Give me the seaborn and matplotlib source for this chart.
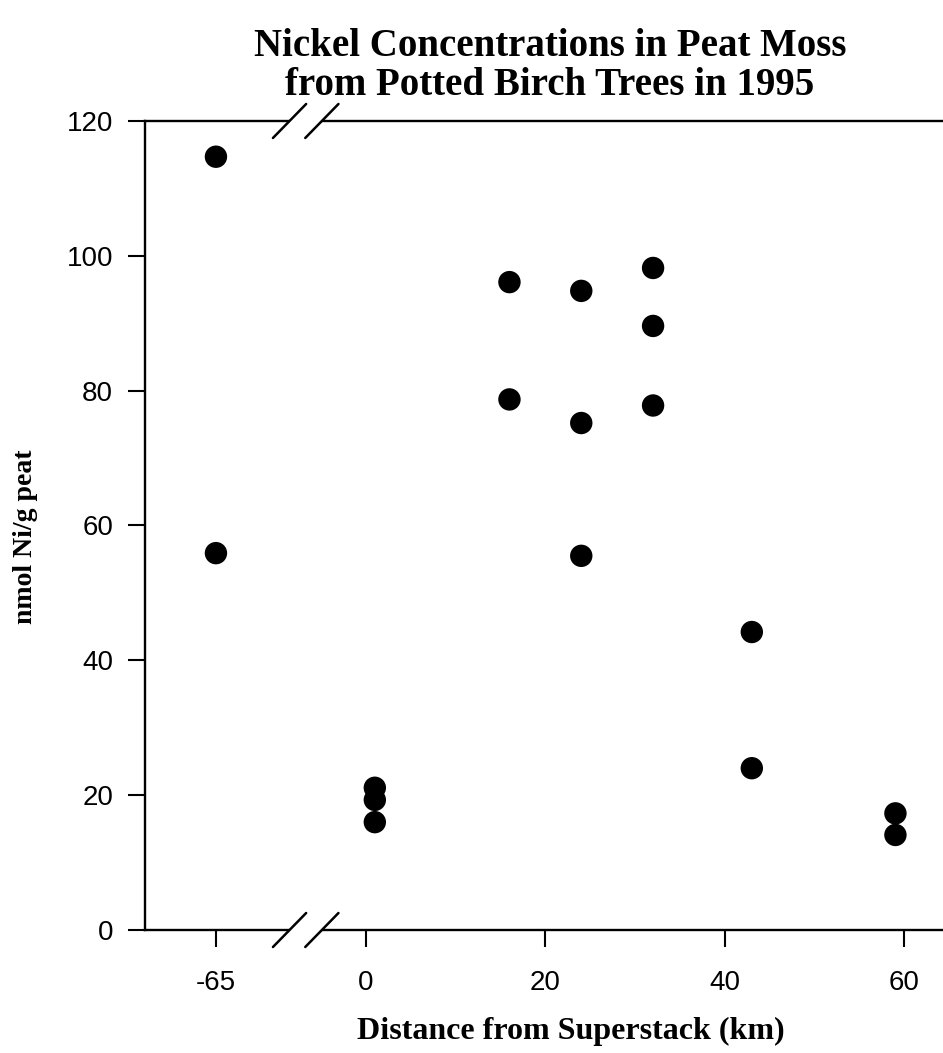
import numpy as np
import pandas as pd
import matplotlib
matplotlib.use("Agg")
import matplotlib.pyplot as plt
import seaborn as sns

# ---- data ----
distance_km = [-65, -65, 1, 1, 1, 16, 16, 24, 24, 24, 32, 32, 32, 43, 43, 59, 59]
nickel_nmol = [114.7, 55.9, 21.1, 19.3, 16.0, 96.1, 78.7, 94.8, 75.2, 55.5,
               98.2, 89.6, 77.8, 44.2, 24.0, 17.3, 14.1]
x_tick_values = [-65, 0, 20, 40, 60]
x_tick_labels = ["-65", "0", "20", "40", "60"]
y_ticks = [0, 20, 40, 60, 80, 100, 120]

# broken axis: values left of the break are shifted onto the compressed segment
BREAK_SHIFT = 48.3


def axis_pos(d):
    return d + BREAK_SHIFT if d < -20 else d


df = pd.DataFrame({"pos": [axis_pos(d) for d in distance_km], "ni": nickel_nmol})

sns.set_style("ticks")
serif = ["Liberation Serif", "DejaVu Serif"]
sans = ["Liberation Sans", "DejaVu Sans"]
plt.rcParams["font.family"] = sans
for key in ["text.color", "axes.labelcolor", "xtick.color", "ytick.color",
            "axes.edgecolor"]:
    plt.rcParams[key] = "black"

fig = plt.figure(figsize=(9.43, 10.53), dpi=100)
ax = fig.add_axes([0.1538, 0.1168, 0.8462, 0.7683])

sns.scatterplot(data=df, x="pos", y="ni", ax=ax, color="black", s=260,
                edgecolor="none", linewidth=0, zorder=3, clip_on=False)

ax.set_xlim(-24.6, 64.3)
ax.set_ylim(0, 120)
ax.set_xticks([axis_pos(v) for v in x_tick_values])
ax.set_xticklabels(x_tick_labels)
ax.set_yticks(y_ticks)
ax.tick_params(axis="both", labelsize=20, length=12, width=1.5,
               color="black", labelcolor="black")
ax.tick_params(axis="x", pad=17)
ax.tick_params(axis="y", pad=11)

for side in ["left", "bottom", "top"]:
    ax.spines[side].set_linewidth(1.7)
    ax.spines[side].set_color("black")
ax.spines["right"].set_visible(False)

ax.set_xlabel("Distance from Superstack (km)", fontsize=23, fontweight="bold",
              family=serif, va="center")
ax.xaxis.set_label_coords(0.533, -0.125)
ax.set_ylabel("nmol Ni/g peat", fontsize=20, fontweight="bold",
              family=serif, va="center")
ax.yaxis.set_label_coords(-0.150, 0.486)

fig.text(550 / 943, 1 - 66 / 1053,
         "Nickel Concentrations in Peat Moss\nfrom Potted Birch Trees in 1995",
         ha="center", va="center", fontsize=28, fontweight="bold",
         family=serif, linespacing=1.1)

# break marks on top and bottom spines
bx1, bx2 = -8.5, -4.9
dx = 1.85
dy_px = 17
for yv in [0, 120]:
    ax.plot([bx1, bx2], [yv, yv], color="white", lw=4, clip_on=False, zorder=4,
            solid_capstyle="butt")
    dy = dy_px / 6.74
    for bx in [bx1, bx2]:
        ax.plot([bx - dx, bx + dx], [yv - dy, yv + dy], color="black", lw=1.8,
                clip_on=False, zorder=5)

fig.savefig("out.png", dpi=100, facecolor="white")
